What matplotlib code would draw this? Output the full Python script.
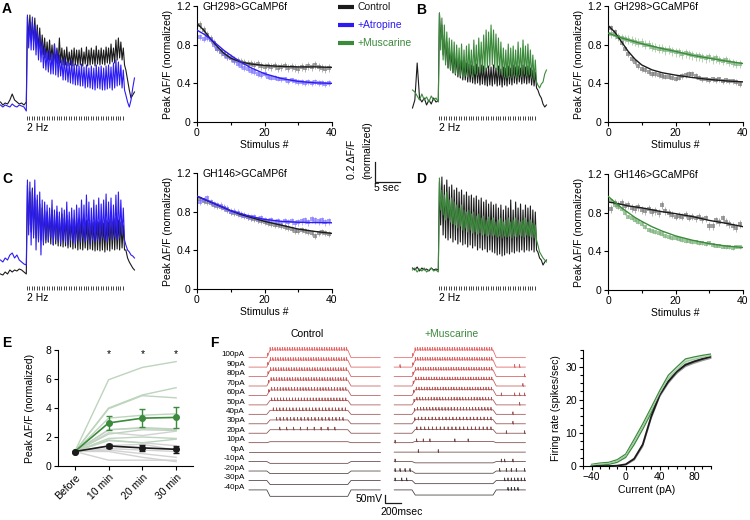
import numpy as np
import matplotlib
matplotlib.use("Agg")
import matplotlib.pyplot as plt
from matplotlib.lines import Line2D
from matplotlib.ticker import MultipleLocator

plt.rcParams["font.family"] = ["Liberation Sans", "DejaVu Sans"]
plt.rcParams["font.size"] = 7.5
plt.rcParams["axes.linewidth"] = 0.8
for a in ("xtick", "ytick"):
    plt.rcParams[f"{a}.major.width"] = 0.8
    plt.rcParams[f"{a}.minor.width"] = 0.8
    plt.rcParams[f"{a}.major.size"] = 3
    plt.rcParams[f"{a}.minor.size"] = 2
    plt.rcParams[f"{a}.major.pad"] = 1.5
    plt.rcParams[f"{a}.labelsize"] = 7.5

# ---------------- data ----------------
stim_num = np.arange(1, 40)
fit_x = [0, 2, 4, 6, 8, 10, 13, 16, 20, 25, 30, 35, 40]

A_ctrl_pts = [1.00, 0.95, 0.90, 0.86, 0.82, 0.76, 0.72, 0.70, 0.68, 0.66, 0.64, 0.63, 0.62, 0.61, 0.60, 0.60, 0.59, 0.60, 0.58, 0.57,
              0.58, 0.57, 0.58, 0.56, 0.57, 0.58, 0.56, 0.57, 0.56, 0.55, 0.57, 0.56, 0.58, 0.57, 0.59, 0.57, 0.56, 0.55, 0.56]
A_atr_pts = [0.88, 0.86, 0.87, 0.85, 0.80, 0.76, 0.73, 0.70, 0.67, 0.66, 0.63, 0.60, 0.58, 0.56, 0.55, 0.53, 0.52, 0.50, 0.49, 0.50,
             0.47, 0.46, 0.46, 0.45, 0.44, 0.44, 0.42, 0.43, 0.42, 0.41, 0.41, 0.40, 0.41, 0.40, 0.41, 0.40, 0.40, 0.39, 0.40]
A_ctrl_fit = [1.02, 0.95, 0.86, 0.78, 0.71, 0.66, 0.62, 0.60, 0.585, 0.575, 0.57, 0.57, 0.565]
A_atr_fit = [0.95, 0.91, 0.86, 0.80, 0.74, 0.69, 0.62, 0.56, 0.50, 0.45, 0.42, 0.405, 0.40]
A_ctrl_err, A_atr_err = 0.04, 0.03

B_ctrl_pts = [0.97, 0.93, 0.88, 0.82, 0.76, 0.70, 0.65, 0.62, 0.58, 0.55, 0.54, 0.52, 0.50, 0.50, 0.49, 0.48, 0.47, 0.47, 0.46, 0.45,
              0.46, 0.48, 0.49, 0.50, 0.50, 0.48, 0.46, 0.44, 0.44, 0.43, 0.44, 0.43, 0.44, 0.42, 0.43, 0.42, 0.42, 0.41, 0.39]
B_musc_pts = [0.91, 0.90, 0.88, 0.87, 0.86, 0.85, 0.84, 0.83, 0.82, 0.82, 0.80, 0.80, 0.78, 0.77, 0.76, 0.76, 0.74, 0.75, 0.73, 0.72,
              0.72, 0.70, 0.71, 0.70, 0.69, 0.68, 0.68, 0.67, 0.66, 0.67, 0.65, 0.66, 0.64, 0.63, 0.64, 0.62, 0.61, 0.60, 0.60]
B_ctrl_fit = [1.00, 0.93, 0.83, 0.73, 0.65, 0.59, 0.54, 0.51, 0.485, 0.46, 0.44, 0.425, 0.415]
B_musc_fit = [0.92, 0.895, 0.87, 0.85, 0.83, 0.81, 0.785, 0.76, 0.73, 0.69, 0.66, 0.63, 0.605]
B_ctrl_err, B_musc_err = 0.03, 0.045

C_ctrl_pts = [0.93, 0.91, 0.90, 0.89, 0.87, 0.86, 0.85, 0.84, 0.82, 0.80, 0.79, 0.78, 0.77, 0.76, 0.74, 0.73, 0.72, 0.71, 0.70, 0.69,
              0.68, 0.67, 0.66, 0.66, 0.65, 0.64, 0.63, 0.62, 0.60, 0.60, 0.61, 0.60, 0.59, 0.58, 0.55, 0.58, 0.59, 0.58, 0.57]
C_atr_pts = [0.90, 0.92, 0.94, 0.90, 0.88, 0.87, 0.86, 0.84, 0.83, 0.80, 0.80, 0.79, 0.77, 0.76, 0.75, 0.74, 0.74, 0.72, 0.73, 0.71,
             0.70, 0.71, 0.69, 0.70, 0.68, 0.70, 0.69, 0.70, 0.68, 0.69, 0.70, 0.71, 0.69, 0.72, 0.71, 0.70, 0.71, 0.69, 0.70]
C_ctrl_fit = [0.96, 0.93, 0.90, 0.87, 0.84, 0.81, 0.77, 0.74, 0.70, 0.66, 0.62, 0.595, 0.575]
C_atr_fit = [0.96, 0.93, 0.90, 0.87, 0.84, 0.81, 0.78, 0.75, 0.72, 0.70, 0.69, 0.687, 0.685]
C_ctrl_err, C_atr_err = 0.03, 0.035

D_ctrl_pts = [0.84, 0.90, 0.88, 0.90, 0.87, 0.88, 0.85, 0.84, 0.86, 0.83, 0.82, 0.84, 0.81, 0.82, 0.80, 0.88, 0.82, 0.80, 0.78, 0.76,
              0.77, 0.76, 0.78, 0.75, 0.76, 0.74, 0.76, 0.73, 0.74, 0.66, 0.66, 0.72, 0.70, 0.74, 0.70, 0.68, 0.66, 0.64, 0.68]
D_musc_pts = [0.92, 0.88, 0.86, 0.84, 0.80, 0.76, 0.74, 0.72, 0.70, 0.68, 0.65, 0.62, 0.61, 0.60, 0.59, 0.58, 0.56, 0.55, 0.54, 0.54,
              0.53, 0.52, 0.51, 0.51, 0.50, 0.50, 0.49, 0.49, 0.48, 0.49, 0.47, 0.46, 0.46, 0.45, 0.44, 0.44, 0.43, 0.45, 0.44]
D_ctrl_fit = [0.91, 0.90, 0.885, 0.87, 0.86, 0.85, 0.83, 0.81, 0.79, 0.76, 0.72, 0.69, 0.655]
D_musc_fit = [0.97, 0.91, 0.85, 0.80, 0.75, 0.71, 0.655, 0.61, 0.56, 0.515, 0.48, 0.455, 0.44]
D_ctrl_err, D_musc_err = 0.04, 0.02

# calcium traces: baseline samples, per-stimulus peaks and troughs, post-stimulus samples
A_ctrl_base = [0.08, 0.05, 0.07, 0.06, 0.10, 0.16, 0.10, 0.08, 0.06, 0.07, 0.05, 0.08]
A_ctrl_peaks = [0.93, 0.95, 0.88, 0.92, 0.85, 0.82, 0.75, 0.72, 0.68, 0.70, 0.65, 0.66, 0.62, 0.72, 0.62, 0.60, 0.63, 0.58, 0.60, 0.62,
                0.60, 0.60, 0.62, 0.58, 0.63, 0.60, 0.62, 0.60, 0.64, 0.60, 0.62, 0.60, 0.63, 0.62, 0.66, 0.62, 0.70, 0.72, 0.68, 0.62]
A_ctrl_troughs = [0.72, 0.70, 0.68, 0.65, 0.60, 0.58, 0.55, 0.52, 0.50, 0.50, 0.48, 0.47, 0.46, 0.47, 0.45, 0.45, 0.44, 0.45, 0.44, 0.45,
                  0.44, 0.45, 0.44, 0.46, 0.44, 0.45, 0.46, 0.44, 0.46, 0.45, 0.46, 0.45, 0.47, 0.46, 0.48, 0.47, 0.50, 0.52, 0.50, 0.45]
A_ctrl_tail = [0.40, 0.30, 0.20, 0.12, 0.15, 0.18]
A_atr_base = [0.05, 0.03, 0.05, 0.04, 0.03, 0.06, 0.04, 0.03, 0.05, 0.04, 0.03, -0.01]
A_atr_peaks = [0.95, 0.88, 0.93, 0.85, 0.80, 0.75, 0.68, 0.62, 0.58, 0.60, 0.56, 0.66, 0.60, 0.55, 0.50, 0.52, 0.48, 0.47, 0.50, 0.46,
               0.45, 0.44, 0.46, 0.43, 0.45, 0.42, 0.44, 0.42, 0.45, 0.43, 0.44, 0.42, 0.44, 0.45, 0.43, 0.47, 0.50, 0.48, 0.45, 0.40]
A_atr_troughs = [0.62, 0.60, 0.60, 0.55, 0.50, 0.48, 0.42, 0.40, 0.38, 0.36, 0.36, 0.35, 0.33, 0.34, 0.30, 0.30, 0.28, 0.27, 0.26, 0.25,
                 0.25, 0.24, 0.24, 0.22, 0.23, 0.22, 0.21, 0.20, 0.22, 0.21, 0.20, 0.20, 0.21, 0.22, 0.20, 0.22, 0.24, 0.25, 0.22, 0.20]
A_atr_tail = [0.15, 0.08, 0.03, 0.10, 0.22, 0.32]

B_ctrl_base = [0.02, 0.10, 0.47, 0.12, 0.08, 0.12, 0.05, 0.10, 0.06, 0.12, 0.08, 0.09]
B_ctrl_peaks = [0.97, 0.85, 0.75, 0.68, 0.62, 0.58, 0.56, 0.52, 0.50, 0.50, 0.48, 0.47, 0.46, 0.45, 0.44, 0.46, 0.43, 0.45, 0.44, 0.42,
                0.44, 0.43, 0.45, 0.42, 0.44, 0.41, 0.43, 0.42, 0.44, 0.42, 0.45, 0.43, 0.44, 0.42, 0.45, 0.43, 0.44, 0.42, 0.40, 0.38]
B_ctrl_troughs = [0.70, 0.55, 0.48, 0.42, 0.40, 0.37, 0.35, 0.33, 0.32, 0.30, 0.30, 0.28, 0.28, 0.27, 0.26, 0.27, 0.25, 0.26, 0.25, 0.24,
                  0.25, 0.24, 0.26, 0.24, 0.25, 0.23, 0.25, 0.24, 0.26, 0.25, 0.27, 0.26, 0.28, 0.26, 0.27, 0.26, 0.27, 0.25, 0.24, 0.22]
B_ctrl_tail = [0.20, 0.15, 0.12, 0.06, 0.03, 0.05]
B_musc_base = [0.20, 0.18, 0.14, 0.10, 0.16, 0.10, 0.13, 0.08, 0.14, 0.10, 0.12, 0.08]
B_musc_peaks = [0.97, 0.92, 0.85, 0.78, 0.72, 0.70, 0.68, 0.65, 0.62, 0.66, 0.60, 0.64, 0.66, 0.60, 0.70, 0.65, 0.72, 0.68, 0.75, 0.80,
                0.78, 0.85, 0.80, 0.76, 0.72, 0.68, 0.62, 0.60, 0.66, 0.62, 0.64, 0.60, 0.68, 0.62, 0.70, 0.64, 0.66, 0.60, 0.55, 0.50]
B_musc_troughs = [0.60, 0.50, 0.45, 0.42, 0.40, 0.38, 0.36, 0.35, 0.34, 0.33, 0.34, 0.33, 0.35, 0.33, 0.36, 0.35, 0.38, 0.37, 0.40, 0.42,
                  0.44, 0.45, 0.42, 0.40, 0.36, 0.35, 0.33, 0.32, 0.33, 0.32, 0.34, 0.32, 0.35, 0.33, 0.36, 0.34, 0.35, 0.32, 0.30, 0.28]
B_musc_tail = [0.25, 0.22, 0.26, 0.28, 0.36, 0.40]

C_ctrl_base = [0.06, 0.05, 0.08, 0.06, 0.10, 0.08, 0.10, 0.09, 0.11, 0.10, 0.08, 0.06]
C_ctrl_peaks = [0.95, 0.88, 0.92, 0.82, 0.80, 0.76, 0.72, 0.70, 0.68, 0.66, 0.70, 0.65, 0.68, 0.64, 0.66, 0.62, 0.65, 0.60, 0.62, 0.60,
                0.62, 0.60, 0.62, 0.58, 0.60, 0.57, 0.60, 0.58, 0.60, 0.58, 0.60, 0.57, 0.60, 0.58, 0.62, 0.60, 0.62, 0.60, 0.58, 0.55]
C_ctrl_troughs = [0.55, 0.48, 0.45, 0.42, 0.40, 0.40, 0.38, 0.37, 0.38, 0.36, 0.35, 0.36, 0.34, 0.34, 0.33, 0.34, 0.32, 0.33, 0.31, 0.32,
                  0.30, 0.31, 0.30, 0.32, 0.30, 0.31, 0.30, 0.29, 0.30, 0.29, 0.30, 0.28, 0.30, 0.29, 0.31, 0.30, 0.31, 0.30, 0.32, 0.30]
C_ctrl_tail = [0.30, 0.22, 0.18, 0.15, 0.12, 0.10]
C_atr_base = [0.20, 0.18, 0.22, 0.20, 0.25, 0.27, 0.22, 0.25, 0.20, 0.18, 0.16, 0.15]
C_atr_peaks = [1.00, 0.98, 0.90, 1.00, 0.85, 0.88, 0.80, 0.78, 0.75, 0.72, 0.80, 0.70, 0.74, 0.68, 0.72, 0.70, 0.78, 0.68, 0.72, 0.70,
               0.75, 0.72, 0.80, 0.75, 0.85, 0.78, 0.72, 0.80, 0.75, 0.82, 0.76, 0.80, 0.86, 0.78, 0.82, 0.75, 0.85, 0.88, 0.80, 0.72]
C_atr_troughs = [0.45, 0.35, 0.42, 0.30, 0.38, 0.25, 0.35, 0.40, 0.38, 0.42, 0.35, 0.40, 0.38, 0.36, 0.40, 0.38, 0.35, 0.40, 0.38, 0.36,
                 0.40, 0.38, 0.42, 0.38, 0.40, 0.36, 0.40, 0.38, 0.40, 0.38, 0.42, 0.40, 0.38, 0.42, 0.40, 0.43, 0.40, 0.42, 0.45, 0.40]
C_atr_tail = [0.35, 0.30, 0.28, 0.25, 0.24, 0.22]

D_ctrl_base = [0.12, 0.10, 0.13, 0.09, 0.12, 0.10, 0.11, 0.09, 0.12, 0.10, 0.11, 0.10]
D_ctrl_peaks = [0.98, 1.03, 0.95, 1.00, 0.93, 0.95, 0.90, 0.92, 0.88, 0.90, 0.85, 0.88, 0.84, 0.85, 0.82, 0.84, 0.80, 0.82, 0.78, 0.80,
                0.76, 0.78, 0.75, 0.76, 0.72, 0.75, 0.70, 0.74, 0.72, 0.80, 0.70, 0.78, 0.72, 0.76, 0.70, 0.75, 0.72, 0.74, 0.70, 0.68]
D_ctrl_troughs = [0.55, 0.45, 0.42, 0.40, 0.42, 0.38, 0.40, 0.36, 0.38, 0.35, 0.36, 0.33, 0.35, 0.32, 0.34, 0.30, 0.32, 0.30, 0.31, 0.28,
                  0.30, 0.28, 0.27, 0.25, 0.26, 0.24, 0.25, 0.27, 0.26, 0.28, 0.27, 0.29, 0.28, 0.30, 0.28, 0.30, 0.29, 0.30, 0.28, 0.30]
D_ctrl_tail = [0.28, 0.22, 0.20, 0.15, 0.18, 0.20]
D_musc_base = [0.10, 0.12, 0.08, 0.11, 0.09, 0.12, 0.08, 0.10, 0.12, 0.09, 0.10, 0.08]
D_musc_peaks = [1.02, 0.90, 0.85, 0.88, 0.80, 0.82, 0.78, 0.75, 0.72, 0.75, 0.70, 0.68, 0.70, 0.66, 0.68, 0.64, 0.66, 0.62, 0.64, 0.60,
                0.63, 0.60, 0.62, 0.58, 0.60, 0.62, 0.58, 0.60, 0.62, 0.58, 0.60, 0.62, 0.60, 0.58, 0.60, 0.62, 0.58, 0.60, 0.57, 0.55]
D_musc_troughs = [0.70, 0.65, 0.60, 0.62, 0.58, 0.56, 0.55, 0.52, 0.54, 0.50, 0.52, 0.48, 0.50, 0.47, 0.48, 0.46, 0.47, 0.45, 0.46, 0.44,
                  0.45, 0.44, 0.45, 0.43, 0.44, 0.42, 0.44, 0.43, 0.44, 0.42, 0.44, 0.43, 0.45, 0.44, 0.43, 0.45, 0.44, 0.43, 0.42, 0.40]
D_musc_tail = [0.35, 0.28, 0.25, 0.22, 0.20, 0.18]

n_stimuli = 40
stim_rate_hz = 2.0

# panel E
E_categories = ["Before", "10 min", "20 min", "30 min"]
E_musc_individual = [[1, 5.95, 6.8, 7.2], [1, 4.0, 4.9, 5.4], [1, 3.95, 4.85, 4.7], [1, 3.3, 3.5, 3.6],
                     [1, 2.5, 2.65, 2.55], [1, 2.2, 2.5, 2.45], [1, 1.9, 2.0, 1.9], [1, 1.75, 1.6, 1.85]]
E_ctrl_individual = [[1, 0.4, 0.4, 0.4], [1, 1.0, 0.6, 0.3], [1, 1.1, 0.85, 0.6], [1, 1.2, 1.1, 1.0],
                     [1, 1.4, 1.5, 1.1], [1, 1.8, 1.6, 1.4], [1, 2.3, 2.1, 2.4], [1, 2.5, 2.6, 2.5]]
E_musc_mean = [1.0, 2.97, 3.3, 3.35]
E_musc_sem = [0.0, 0.5, 0.6, 0.75]
E_ctrl_mean = [1.0, 1.38, 1.25, 1.15]
E_ctrl_sem = [0.0, 0.15, 0.2, 0.25]

# panel F (f-I curve)
current_pA = [-40, -30, -20, -10, 0, 10, 20, 30, 40, 50, 60, 70, 80, 90, 100]
ctrl_rate = [0, 0, 0, 0.1, 0.5, 2.2, 6.5, 15.0, 21.5, 25.5, 28.5, 30.5, 31.5, 32.3, 33.0]
ctrl_sem = [0, 0, 0, 0.05, 0.2, 0.4, 0.6, 0.6, 0.5, 0.5, 0.5, 0.5, 0.5, 0.5, 0.5]
musc_rate = [0.3, 0.6, 0.8, 1.5, 3.1, 7.3, 11.9, 16.9, 22.0, 26.5, 29.0, 31.5, 32.2, 32.8, 33.3]
musc_sem = [0.2, 0.3, 0.3, 0.4, 0.5, 0.8, 0.8, 0.8, 0.8, 0.9, 0.9, 0.8, 0.7, 0.6, 0.5]

# panel F (example voltage traces)
ephys_labels = ["100pA", "90pA", "80pA", "70pA", "60pA", "50pA", "40pA", "30pA", "20pA", "10pA",
                "0pA", "-10pA", "-20pA", "-30pA", "-40pA"]
ctrl_defl_mV = [48, 44, 40, 37, 34, 28, 25, 24, 22, 6, 0, -11, -16, -25, -40]
musc_defl_mV = [48, 45, 42, 40, 36, 32, 28, 26, 24, 8, 0, -8, -14, -20, -32]
ctrl_nspikes = [33, 32, 31, 30, 28, 26, 23, 20, 9, 0, 0, 0, 0, 0, 0]
ctrl_first_ms = [10, 12, 15, 20, 25, 60, 80, 120, 160, 0, 0, 0, 0, 0, 0]
ctrl_last_ms = [985, 985, 980, 980, 975, 975, 970, 940, 840, 0, 0, 0, 0, 0, 0]
musc_nspikes = [33, 33, 32, 31, 30, 28, 26, 23, 20, 0, 0, 0, 0, 0, 0]
musc_first_ms = [8, 10, 12, 15, 20, 25, 30, 35, 60, 0, 0, 0, 0, 0, 0]
musc_last_ms = [985, 985, 985, 985, 980, 980, 975, 975, 975, 0, 0, 0, 0, 0, 0]
musc_extra_spikes_ms = [[], [-148, 1267, 1328], [1390], [1369], [1103, 1267, 1328, 1390], [1328], [1246], [1246],
                        [1165, 1390], [-209, 57, 139, 221, 529, 693], [78, 324], [-209, 1103, 1144, 1246],
                        [-209, -148, -86, -25, 1082, 1165, 1226, 1288, 1390],
                        [-209, -127, -66, 1144, 1185, 1226, 1267, 1308, 1349, 1390], [1185, 1226, 1267, 1308]]

# ---------------- styles ----------------
BLACK = "#1b1b1b"
BLUE = "#2d1cf2"
GREEN = "#3c8a3c"
GRAY_PT = "#7a7a7a"
BLUE_PT = "#7f76ff"
GREEN_PT = "#78b078"

W, H = 750, 520
fig = plt.figure(figsize=(7.5, 5.2), dpi=100)


def ax_px(x0, y0, x1, y1):
    return fig.add_axes([x0 / W, 1 - y1 / H, (x1 - x0) / W, (y1 - y0) / H])


def ftext(x, y, s, **kw):
    return fig.text(x / W, 1 - y / H, s, **kw)


def fline(xs, ys, **kw):
    fig.add_artist(Line2D([x / W for x in xs], [1 - y / H for y in ys],
                          transform=fig.transFigure, **kw))


def clean(ax):
    for s in ("top", "right"):
        ax.spines[s].set_visible(False)


# ---------------- calcium traces ----------------
def trace_axes(x0, y0):
    ax = ax_px(x0, y0, x0 + 135.2, y0 + 100)
    ax.set_xlim(-5.5, 22.0)
    ax.set_ylim(0, 1)
    ax.axis("off")
    stim_t = np.arange(n_stimuli) / stim_rate_hz
    ax.vlines(stim_t, -0.10, -0.06, color="#444444", lw=0.7, clip_on=False)
    ax.text(0, -0.18, "2 Hz", ha="left", va="center", fontsize=7.5, clip_on=False)
    return ax


def draw_trace(ax, base, peaks, troughs, tail, color):
    tb = np.linspace(-5.4, -0.15, len(base))
    ts = np.arange(len(peaks)) / stim_rate_hz
    t_st = np.empty(2 * len(peaks))
    y_st = np.empty(2 * len(peaks))
    t_st[0::2] = ts + 0.08
    t_st[1::2] = ts + 0.33
    y_st[0::2] = peaks
    y_st[1::2] = troughs
    tt = ts[-1] + 0.6 + 0.35 * np.arange(len(tail))
    t = np.concatenate([tb, t_st, tt])
    y = np.concatenate([base, y_st, tail])
    ax.plot(t, y, color=color, lw=0.8, clip_on=False)


axTA = trace_axes(0, 10)
draw_trace(axTA, A_ctrl_base, A_ctrl_peaks, A_ctrl_troughs, A_ctrl_tail, BLACK)
draw_trace(axTA, A_atr_base, A_atr_peaks, A_atr_troughs, A_atr_tail, BLUE)

axTB = trace_axes(412, 10)
draw_trace(axTB, B_ctrl_base, B_ctrl_peaks, B_ctrl_troughs, B_ctrl_tail, BLACK)
draw_trace(axTB, B_musc_base, B_musc_peaks, B_musc_troughs, B_musc_tail, GREEN)

axTC = trace_axes(0, 180)
draw_trace(axTC, C_ctrl_base, C_ctrl_peaks, C_ctrl_troughs, C_ctrl_tail, BLACK)
draw_trace(axTC, C_atr_base, C_atr_peaks, C_atr_troughs, C_atr_tail, BLUE)

axTD = trace_axes(412, 180)
draw_trace(axTD, D_ctrl_base, D_ctrl_peaks, D_ctrl_troughs, D_ctrl_tail, BLACK)
draw_trace(axTD, D_musc_base, D_musc_peaks, D_musc_troughs, D_musc_tail, GREEN)


# ---------------- stimulus plots ----------------
def stim_plot(box, title, series):
    ax = ax_px(*box)
    for pts, err, fitv, col, pcol in series:
        ax.errorbar(stim_num, pts, yerr=err, fmt="s", ms=2.4, color=pcol, ecolor=pcol, mew=0,
                    elinewidth=0.55, capsize=1.2, capthick=0.55, alpha=0.7, zorder=2)
        ax.plot(fit_x, fitv, color=col, lw=1.0, zorder=3)
    ax.set_xlim(0, 40)
    ax.set_ylim(0, 1.2)
    ax.set_xticks([0, 20, 40])
    ax.xaxis.set_minor_locator(MultipleLocator(10))
    ax.set_yticks([0, 0.4, 0.8, 1.2])
    ax.set_yticklabels(["0", "0.4", "0.8", "1.2"])
    clean(ax)
    ax.text(1.5, 1.19, title, ha="left", va="center", fontsize=7.5)
    ax.set_xlabel("Stimulus #", labelpad=1)
    ax.set_ylabel("Peak ΔF/F (normalized)", labelpad=2)
    return ax


stim_plot((197, 6, 332, 122), "GH298>GCaMP6f",
          [(A_ctrl_pts, A_ctrl_err, A_ctrl_fit, BLACK, GRAY_PT),
           (A_atr_pts, A_atr_err, A_atr_fit, BLUE, BLUE_PT)])
stim_plot((608, 6, 743, 122), "GH298>GCaMP6f",
          [(B_ctrl_pts, B_ctrl_err, B_ctrl_fit, BLACK, GRAY_PT),
           (B_musc_pts, B_musc_err, B_musc_fit, GREEN, GREEN_PT)])
stim_plot((197, 173, 332, 289), "GH146>GCaMP6f",
          [(C_ctrl_pts, C_ctrl_err, C_ctrl_fit, BLACK, GRAY_PT),
           (C_atr_pts, C_atr_err, C_atr_fit, BLUE, BLUE_PT)])
stim_plot((608, 174, 743, 290), "GH146>GCaMP6f",
          [(D_ctrl_pts, D_ctrl_err, D_ctrl_fit, BLACK, GRAY_PT),
           (D_musc_pts, D_musc_err, D_musc_fit, GREEN, GREEN_PT)])

# legend
for yy, lab, col in [(7, "Control", BLACK), (25, "+Atropine", BLUE), (43, "+Muscarine", GREEN)]:
    fline([338, 354], [yy, yy], color=col, lw=3, solid_capstyle="butt")
    ftext(358, yy, lab, color=col, ha="left", va="center", fontsize=7.5)

# calcium scale bar
fline([375, 375, 400], [162, 182, 182], color=BLACK, lw=0.9)
ftext(352, 159, "0.2 ΔF/F", rotation=90, ha="center", va="center", fontsize=7.5)
ftext(367, 150, "(normalized)", rotation=90, ha="center", va="center", fontsize=7.5)
ftext(387, 188, "5 sec", ha="center", va="center", fontsize=7.5)

# ---------------- panel E ----------------
axE = ax_px(58, 350, 193, 466)
xE = np.arange(len(E_categories))
for line in E_ctrl_individual:
    axE.plot(xE, line, color="#d2d2d2", lw=1.0, zorder=1)
for line in E_musc_individual:
    axE.plot(xE, line, color="#bdd4bd", lw=1.0, zorder=1)
axE.errorbar(xE, E_musc_mean, yerr=E_musc_sem, fmt="-o", color=GREEN, ms=4, lw=1.2,
             elinewidth=1.0, capsize=2, capthick=1.0, zorder=3)
axE.errorbar(xE, E_ctrl_mean, yerr=E_ctrl_sem, fmt="-o", color=BLACK, ms=4, lw=1.2,
             elinewidth=1.0, capsize=2, capthick=1.0, zorder=4)
for xi in xE[1:]:
    axE.text(xi, 7.75, "*", ha="center", va="center", fontsize=7.5)
axE.set_xlim(-0.5, 3.5)
axE.set_ylim(0, 8)
axE.set_yticks([0, 2, 4, 6, 8])
axE.set_xticks(xE)
axE.set_xticklabels(E_categories, rotation=45, ha="right", rotation_mode="anchor")
axE.set_ylabel("Peak ΔF/F (normalized)", labelpad=8)
clean(axE)

# ---------------- panel F traces ----------------
MV_PER_ROW = 59
c_top = np.array([0.90, 0.40, 0.40])
c_bot = np.array([0.25, 0.22, 0.22])
row_cols = [tuple(c_top + (c_bot - c_top) * k / 14) for k in range(15)]


def build_ephys(d, n, first, last, extra, spike_h=16):
    rise = 40.0

    def level(t):
        if t < 0:
            return 0.0
        if t < rise:
            return d * t / rise
        if t < 1000:
            return d
        if t < 1000 + rise:
            return d * (1 - (t - 1000) / rise)
        return 0.0

    spikes = list(np.linspace(first, last, n)) if n > 0 else []
    spikes = sorted(spikes + list(extra))
    pts = [(-220, 0.0), (0, 0.0), (rise, d), (1000, d), (1000 + rise, 0.0), (1400, 0.0)]
    for s in spikes:
        pts += [(s - 3, level(s - 3)), (s, level(s) + spike_h),
                (s + 4, level(s + 4) - 3), (s + 9, level(s + 9))]
    pts.sort(key=lambda p: p[0])
    return np.array([p[0] for p in pts]), np.array([p[1] for p in pts])


axFc = ax_px(249, 345, 380.2, 500)
axFm = ax_px(394.2, 345, 525.4, 500)
for ax in (axFc, axFm):
    ax.set_xlim(-220, 1400)
    ax.set_ylim(-889, 79)
    ax.axis("off")

for k in range(15):
    t, v = build_ephys(ctrl_defl_mV[k], ctrl_nspikes[k], ctrl_first_ms[k], ctrl_last_ms[k], [])
    axFc.plot(t, v - k * MV_PER_ROW, color=row_cols[k], lw=0.55, clip_on=False)
    t, v = build_ephys(musc_defl_mV[k], musc_nspikes[k], musc_first_ms[k], musc_last_ms[k],
                       musc_extra_spikes_ms[k])
    axFm.plot(t, v - k * MV_PER_ROW, color=row_cols[k], lw=0.55, clip_on=False)
    axFc.text(-270, -k * MV_PER_ROW + 18, ephys_labels[k], ha="right", va="center",
              fontsize=5.8, clip_on=False)

ftext(307, 334, "Control", ha="center", va="center", fontsize=7.5)
ftext(452, 334, "+Muscarine", ha="center", va="center", fontsize=7.5, color=GREEN)

# ephys scale bar
fline([385, 385, 401], [495, 503, 503], color=BLACK, lw=0.9)
ftext(383, 499, "50mV", ha="right", va="center", fontsize=7.5)
ftext(402, 512, "200msec", ha="center", va="center", fontsize=7.5)

# ---------------- panel F f-I curve ----------------
axFI = ax_px(583, 350, 711, 466)
cr = np.array(ctrl_rate)
cs = np.array(ctrl_sem)
mr = np.array(musc_rate)
ms_ = np.array(musc_sem)
axFI.fill_between(current_pA, mr - ms_, mr + ms_, color="#cfe4cf", lw=0, zorder=1)
axFI.plot(current_pA, mr + ms_, color=GREEN, lw=0.9, zorder=2)
axFI.plot(current_pA, mr - ms_, color=GREEN, lw=0.9, zorder=2)
axFI.fill_between(current_pA, cr - cs, cr + cs, color="#9a9a9a", lw=0, zorder=3)
axFI.plot(current_pA, cr, color=BLACK, lw=1.3, zorder=4)
axFI.plot(current_pA, mr, color="#9fc99f", lw=0.8, zorder=5)
axFI.set_xlim(-50, 100)
axFI.set_ylim(0, 35)
axFI.set_xticks([-40, 0, 40, 80])
axFI.xaxis.set_minor_locator(MultipleLocator(10))
axFI.set_yticks([0, 10, 20, 30])
axFI.yaxis.set_minor_locator(MultipleLocator(2.5))
axFI.set_xlabel("Current (pA)", labelpad=2)
axFI.set_ylabel("Firing rate (spikes/sec)", labelpad=3)
clean(axFI)

# ---------------- panel letters ----------------
for x, y, s in [(7, 9, "A"), (421, 10, "B"), (7, 179, "C"), (421, 179, "D"), (7, 343, "E"), (214, 343, "F")]:
    ftext(x, y, s, ha="center", va="center", fontsize=10, fontweight="bold")

fig.savefig("out.png", dpi=100)
